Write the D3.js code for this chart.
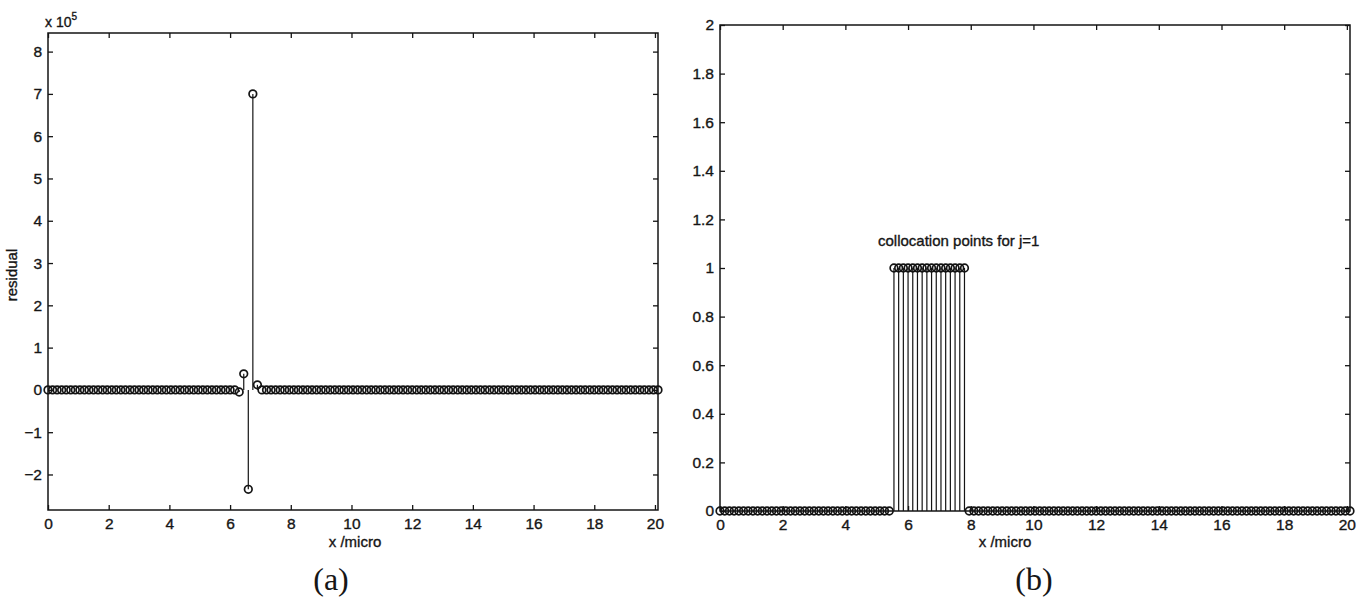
<!DOCTYPE html>
<html><head><meta charset="utf-8">
<script src="https://cdn.jsdelivr.net/npm/d3@7"></script>
<style>
body{margin:0;background:#fff}
svg{display:block}
text{font-family:"Liberation Sans",Arial,sans-serif;fill:#161616}
.cap{font-family:"Liberation Serif","DejaVu Serif",serif}
</style>
</head><body>
<svg id="c" width="1366" height="609"></svg>
<script>
// Positions along the domain (micro)
const xGrid = [
  0,0.15,0.3,0.45,0.6,0.75,0.9,1.05,1.2,1.35,1.5,1.65,1.8,1.95,2.1,
  2.25,2.4,2.55,2.7,2.85,3,3.15,3.3,3.45,3.6,3.75,3.9,4.05,4.2,4.35,
  4.5,4.65,4.8,4.95,5.1,5.25,5.4,5.55,5.7,5.85,6,6.15,6.3,6.45,6.6,
  6.75,6.9,7.05,7.2,7.35,7.5,7.65,7.8,7.95,8.1,8.25,8.4,8.55,8.7,8.85,
  9,9.15,9.3,9.45,9.6,9.75,9.9,10.05,10.2,10.35,10.5,10.65,10.8,10.95,11.1,
  11.25,11.4,11.55,11.7,11.85,12,12.15,12.3,12.45,12.6,12.75,12.9,13.05,13.2,13.35,
  13.5,13.65,13.8,13.95,14.1,14.25,14.4,14.55,14.7,14.85,15,15.15,15.3,15.45,15.6,
  15.75,15.9,16.05,16.2,16.35,16.5,16.65,16.8,16.95,17.1,17.25,17.4,17.55,17.7,17.85,
  18,18.15,18.3,18.45,18.6,18.75,18.9,19.05,19.2,19.35,19.5,19.65,19.8,19.95,20.1
];

// (a) residual at each point
const residual = [
  0,0,0,0,0,0,0,0,0,0,0,0,0,0,0,
  0,0,0,0,0,0,0,0,0,0,0,0,0,0,0,
  0,0,0,0,0,0,0,0,0,0,0,0,-5000,38000,-235000,
  700000,12000,0,0,0,0,0,0,0,0,0,0,0,0,0,
  0,0,0,0,0,0,0,0,0,0,0,0,0,0,0,
  0,0,0,0,0,0,0,0,0,0,0,0,0,0,0,
  0,0,0,0,0,0,0,0,0,0,0,0,0,0,0,
  0,0,0,0,0,0,0,0,0,0,0,0,0,0,0,
  0,0,0,0,0,0,0,0,0,0,0,0,0,0,0
];

// (b) collocation indicator for j=1
const collocation = [
  0,0,0,0,0,0,0,0,0,0,0,0,0,0,0,
  0,0,0,0,0,0,0,0,0,0,0,0,0,0,0,
  0,0,0,0,0,0,0,1,1,1,1,1,1,1,1,
  1,1,1,1,1,1,1,1,0,0,0,0,0,0,0,
  0,0,0,0,0,0,0,0,0,0,0,0,0,0,0,
  0,0,0,0,0,0,0,0,0,0,0,0,0,0,0,
  0,0,0,0,0,0,0,0,0,0,0,0,0,0,0,
  0,0,0,0,0,0,0,0,0,0,0,0,0,0,0,
  0,0,0,0,0,0,0,0,0,0,0,0,0,0,0
];

const xTicks = [0,2,4,6,8,10,12,14,16,18,20];
const residualTicks = [-200000,-100000,0,100000,200000,300000,400000,500000,600000,700000,800000];
const collocTicks = [0,0.2,0.4,0.6,0.8,1,1.2,1.4,1.6,1.8,2];

const svg = d3.select("#c");
const ink = "#141414";

function styleText(sel, size) {
  sel.attr("font-size", size).attr("fill", ink)
    .attr("stroke", ink).attr("stroke-width", 0.35)
    .attr("font-family", '"Liberation Sans",Arial,sans-serif');
}

function drawPanel(o) {
  const g = svg.append("g");
  const x = d3.scaleLinear().domain([0, 20.1]).range([o.left, o.right]);
  const y = d3.scaleLinear().domain(o.yDomain).range([o.bottom, o.top]);

  // frame
  g.append("rect")
    .attr("x", o.left).attr("y", o.top)
    .attr("width", o.right - o.left).attr("height", o.bottom - o.top)
    .attr("fill", "none").attr("stroke", ink).attr("stroke-width", 1.5);

  const tick = 5;
  const bottomAxis = g.append("g").attr("transform", `translate(0,${o.bottom})`)
    .call(d3.axisBottom(x).tickValues(xTicks).tickSizeInner(-tick).tickSizeOuter(0).tickPadding(8));
  const topAxis = g.append("g").attr("transform", `translate(0,${o.top})`)
    .call(d3.axisTop(x).tickValues(xTicks).tickSizeInner(-tick).tickSizeOuter(0).tickFormat(""));
  const leftAxis = g.append("g").attr("transform", `translate(${o.left},0)`)
    .call(d3.axisLeft(y).tickValues(o.yTicks).tickSizeInner(-tick).tickSizeOuter(0).tickPadding(6).tickFormat(o.yFormat));
  const rightAxis = g.append("g").attr("transform", `translate(${o.right},0)`)
    .call(d3.axisRight(y).tickValues(o.yTicks).tickSizeInner(-tick).tickSizeOuter(0).tickFormat(""));

  [bottomAxis, topAxis, leftAxis, rightAxis].forEach(a => {
    a.select(".domain").remove();
    a.selectAll("line").attr("stroke", ink).attr("stroke-width", 1.3);
    styleText(a.selectAll("text"), 15.5);
  });

  // stems
  const pts = xGrid.map((xv, i) => ({x: xv, v: o.values[i]}));
  g.append("g").selectAll("line").data(pts.filter(d => d.v !== 0)).join("line")
    .attr("x1", d => x(d.x)).attr("x2", d => x(d.x))
    .attr("y1", y(0)).attr("y2", d => y(d.v))
    .attr("stroke", ink).attr("stroke-width", 1.2);

  // markers
  g.append("g").selectAll("circle").data(pts).join("circle")
    .attr("cx", d => x(d.x)).attr("cy", d => y(d.v)).attr("r", 3.8)
    .attr("fill", "none").attr("stroke", ink).attr("stroke-width", 1.7);

  // x label
  styleText(g.append("text").attr("x", o.xLabelX).attr("y", o.xLabelY)
    .attr("text-anchor", "middle").text("x /micro"), 15);

  return {g, x, y};
}

const a = drawPanel({
  left: 48, right: 658, top: 33, bottom: 510,
  yDomain: [-284000, 844000], yTicks: residualTicks,
  yFormat: d => d3.format("d")(d / 1e5),
  values: residual, xLabelX: 355, xLabelY: 547
});
styleText(a.g.append("text").attr("transform", "translate(17,275) rotate(-90)")
  .attr("text-anchor", "middle").text("residual"), 15);
const mult = a.g.append("text").attr("x", 45).attr("y", 27);
styleText(mult, 14);
mult.append("tspan").text("x 10");
mult.append("tspan").attr("dy", -7).attr("font-size", 10).text("5");

const b = drawPanel({
  left: 720, right: 1350, top: 25, bottom: 511,
  yDomain: [0, 2], yTicks: collocTicks,
  yFormat: d => d3.format("")(d),
  values: collocation, xLabelX: 1005, xLabelY: 547
});
styleText(b.g.append("text").attr("x", 878).attr("y", 246)
  .text("collocation points for j=1"), 15);

// sub-figure captions
svg.append("text").attr("class", "cap").attr("x", 331).attr("y", 590)
  .attr("text-anchor", "middle").attr("font-size", 32).text("(a)");
svg.append("text").attr("class", "cap").attr("x", 1034).attr("y", 590)
  .attr("text-anchor", "middle").attr("font-size", 32).text("(b)");
</script>
</body></html>
